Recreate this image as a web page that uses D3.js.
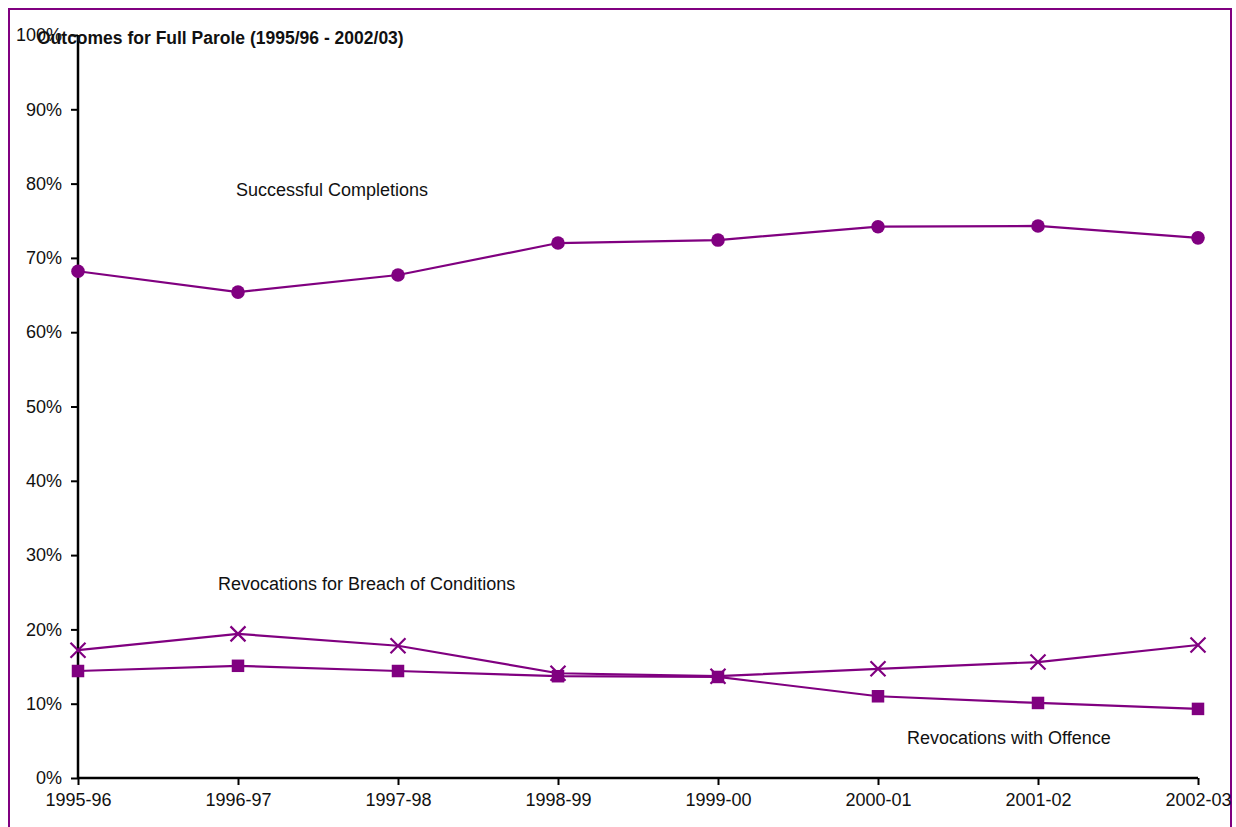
<!DOCTYPE html>
<html>
<head>
<meta charset="utf-8">
<script src="https://cdn.jsdelivr.net/npm/d3@7"></script>
<style>
  html, body { margin: 0; padding: 0; background: #fff; }
  svg { display: block; font-family: "Liberation Sans", Arial, sans-serif; }
</style>
</head>
<body>
<svg id="chart" width="1236" height="827"></svg>
<script>
// Full parole outcomes by fiscal year (percent of releases)
const years = ["1995-96", "1996-97", "1997-98", "1998-99", "1999-00", "2000-01", "2001-02", "2002-03"];
const successfulCompletions = [68.2, 65.4, 67.7, 72.0, 72.4, 74.2, 74.3, 72.7];
const revocationsBreach = [17.2, 19.4, 17.8, 14.1, 13.7, 14.7, 15.6, 17.9];
const revocationsOffence = [14.4, 15.1, 14.4, 13.7, 13.6, 11.0, 10.1, 9.3];
const yTicks = [0, 10, 20, 30, 40, 50, 60, 70, 80, 90, 100];

const purple = "#800080";
const svg = d3.select("#chart");

// outer frame
svg.append("rect")
  .attr("x", 9).attr("y", 9)
  .attr("width", 1222).attr("height", 830)
  .attr("fill", "none").attr("stroke", purple).attr("stroke-width", 2);

const x = d3.scalePoint().domain(years).range([78, 1198]);
const y = d3.scaleLinear().domain([0, 100]).range([778, 35]);

// y axis
const yAxis = svg.append("g")
  .attr("transform", "translate(78,0)")
  .call(d3.axisLeft(y).tickValues(yTicks).tickFormat(d => d + "%").tickSize(7).tickPadding(9));
// x axis
const xAxis = svg.append("g")
  .attr("transform", "translate(0,778)")
  .call(d3.axisBottom(x).tickSize(7).tickPadding(8));

[yAxis, xAxis].forEach(g => {
  g.select(".domain").attr("stroke", "#000").attr("stroke-width", 2.5);
  g.selectAll(".tick line").attr("stroke", "#000").attr("stroke-width", 2);
  g.selectAll(".tick text")
    .attr("fill", "#111")
    .style("font-size", "18px")
    .style("font-family", "'Liberation Sans', Arial, sans-serif");
});
xAxis.select(".domain").attr("d", "M78,0H1198");
yAxis.select(".domain").attr("d", "M0,778V35");

const line = d3.line().x((d, i) => x(years[i])).y(d => y(d));

function drawLine(values) {
  svg.append("path")
    .datum(values)
    .attr("d", line)
    .attr("fill", "none")
    .attr("stroke", purple)
    .attr("stroke-width", 2.2);
}

drawLine(successfulCompletions);
drawLine(revocationsBreach);
drawLine(revocationsOffence);

// circle markers
svg.append("g").selectAll("circle")
  .data(successfulCompletions)
  .join("circle")
  .attr("cx", (d, i) => x(years[i]))
  .attr("cy", d => y(d))
  .attr("r", 6.8)
  .attr("fill", purple);

// square markers
const sq = 12.5;
svg.append("g").selectAll("rect")
  .data(revocationsOffence)
  .join("rect")
  .attr("x", (d, i) => x(years[i]) - sq / 2)
  .attr("y", d => y(d) - sq / 2)
  .attr("width", sq).attr("height", sq)
  .attr("fill", purple);

// cross markers
const cx = 7.5;
svg.append("g").selectAll("path")
  .data(revocationsBreach)
  .join("path")
  .attr("d", (d, i) => {
    const px = x(years[i]), py = y(d);
    return `M${px - cx},${py - cx}L${px + cx},${py + cx}M${px - cx},${py + cx}L${px + cx},${py - cx}`;
  })
  .attr("stroke", purple)
  .attr("stroke-width", 2.2)
  .attr("fill", "none");

// series labels
const labels = [
  { text: "Successful Completions", x: 236, y: 196 },
  { text: "Revocations for Breach of Conditions", x: 218, y: 590 },
  { text: "Revocations with Offence", x: 907, y: 744 }
];
svg.append("g").selectAll("text")
  .data(labels)
  .join("text")
  .attr("x", d => d.x).attr("y", d => d.y)
  .attr("fill", "#111")
  .style("font-size", "18px")
  .text(d => d.text);

// title
svg.append("text")
  .attr("x", 37).attr("y", 44)
  .attr("fill", "#111")
  .style("font-size", "17.5px")
  .style("font-weight", "bold")
  .text("Outcomes for Full Parole (1995/96 - 2002/03)");
</script>
</body>
</html>
